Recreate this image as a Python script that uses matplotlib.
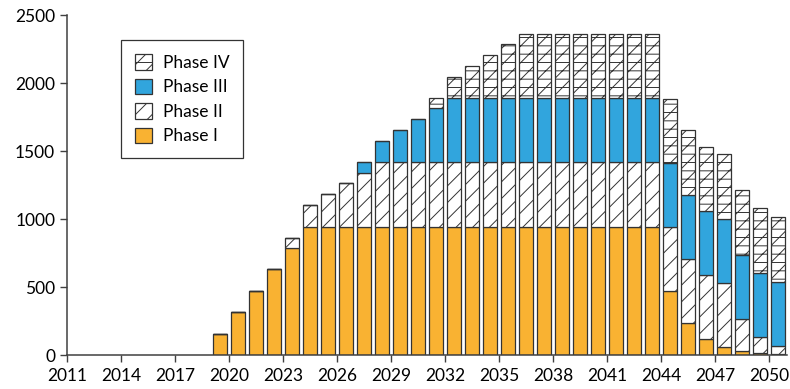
import numpy as np
import matplotlib.pyplot as plt

plt.rcParams['font.family'] = ['Lato', 'DejaVu Sans']
plt.rcParams['hatch.linewidth'] = 0.7

# years of each bar (bar spans year..year+1)
years = np.arange(2019, 2051)

phase1 = [157, 315, 472, 630, 787, 944, 944, 944, 944, 944, 944, 944, 944, 944, 944, 944,
          944, 944, 944, 944, 944, 944, 944, 944, 944, 468, 234, 116, 57, 27, 13, 5]
phase2 = [0, 0, 0, 0, 75, 157, 240, 318, 396, 472, 472, 472, 472, 472, 472, 472,
          472, 472, 472, 472, 472, 472, 472, 472, 472, 472, 470, 472, 474, 237, 118, 62]
phase3 = [0, 0, 0, 0, 0, 0, 0, 0, 79, 160, 238, 319, 398, 472, 472, 472,
          472, 472, 472, 472, 472, 472, 472, 472, 472, 472, 472, 472, 470, 473, 473, 470]
phase4 = [0, 0, 0, 0, 0, 0, 0, 0, 0, 0, 0, 0, 79, 157, 240, 318,
          398, 476, 476, 476, 476, 476, 476, 476, 476, 474, 475, 472, 476, 473, 476, 475]

xticks = np.arange(2011, 2051, 3)
yticks = [0, 500, 1000, 1500, 2000, 2500]

fig = plt.figure(figsize=(7.9, 3.89), dpi=100)
ax = fig.add_axes([0.0848, 0.0874, 0.9114, 0.874])

x = years + 0.5
w = 0.83
ec = '#333333'
p1 = np.array(phase1)
p2 = np.array(phase2)
p3 = np.array(phase3)
p4 = np.array(phase4)

b1 = ax.bar(x, p1, w, color='#F9B232', edgecolor=ec, linewidth=0.9, label='Phase I')
b2 = ax.bar(x, p2, w, bottom=p1, color='white', edgecolor=ec, linewidth=0.9,
            hatch='//', label='Phase II')
b3 = ax.bar(x, p3, w, bottom=p1 + p2, color='#31A5DD', edgecolor=ec, linewidth=0.9,
            label='Phase III')
b4 = ax.bar(x, p4, w, bottom=p1 + p2 + p3, color='white', edgecolor=ec, linewidth=0.9,
            hatch='//--', label='Phase IV')

ax.set_xlim(2011, 2051)
ax.set_ylim(0, 2500)
ax.set_xticks(xticks)
ax.set_yticks(yticks)
ax.tick_params(axis='both', direction='out', length=5, width=1, color='#404040',
               labelsize=12.5, colors='black')
ax.tick_params(axis='x', pad=4)
for s in ['top', 'right']:
    ax.spines[s].set_visible(False)
for s in ['left', 'bottom']:
    ax.spines[s].set_color('#404040')
    ax.spines[s].set_linewidth(1.1)

leg = ax.legend(handles=[b4, b3, b2, b1], loc='upper left',
                bbox_to_anchor=(0.075, 0.926), fontsize=12.5, frameon=True,
                fancybox=False, edgecolor='black', handlelength=1.0, handleheight=1.0,
                borderpad=0.8, labelspacing=0.45, handletextpad=0.6, borderaxespad=0)
leg.get_frame().set_linewidth(0.9)

fig.savefig('out.png', dpi=100)
